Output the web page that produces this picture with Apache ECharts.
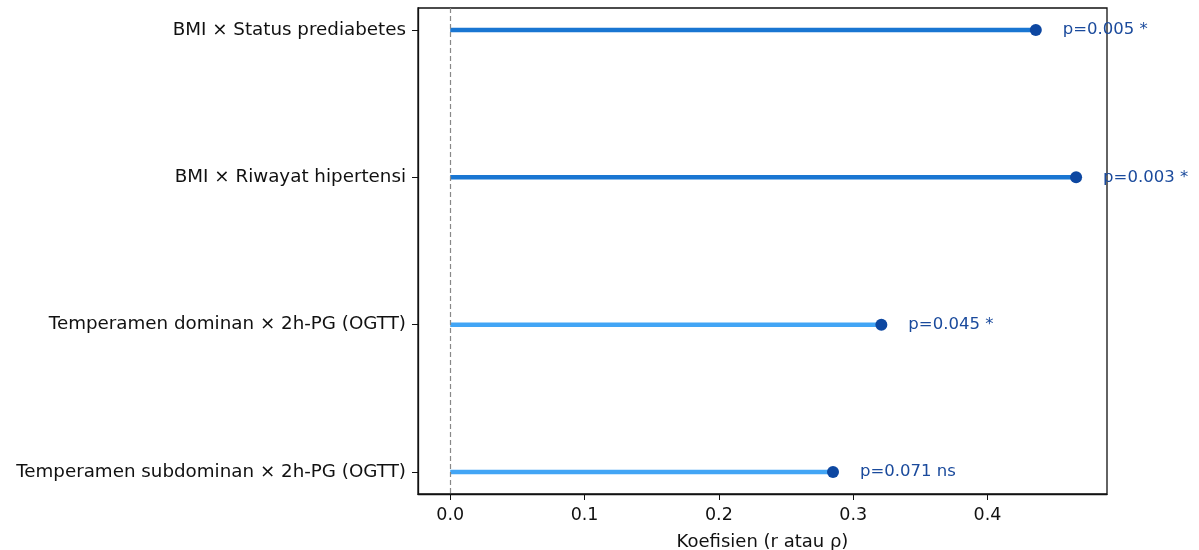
<!DOCTYPE html>
<html><head><meta charset="utf-8">
<script src="https://cdn.jsdelivr.net/npm/echarts@6/dist/echarts.min.js"></script>
<style>html,body{margin:0;padding:0;background:#fff}#c{width:1199px;height:550px}</style>
</head><body><div id="c"></div>
<script>
const categories = ["BMI × Status prediabetes","BMI × Riwayat hipertensi","Temperamen dominan × 2h-PG (OGTT)","Temperamen subdominan × 2h-PG (OGTT)"];
const values = [0.436, 0.466, 0.321, 0.285];
const pLabels = ["p=0.005 *","p=0.003 *","p=0.045 *","p=0.071 ns"];
const lineColors = ["#1976D2","#1976D2","#42A5F5","#42A5F5"];
const xTicks = [0, 0.1, 0.2, 0.3, 0.4];

const font = "DejaVu Sans";
const series = [];
categories.forEach((c, i) => {
  series.push({
    type: 'line', data: [[0, i], [values[i], i]], symbol: 'none', silent: true,
    lineStyle: {color: lineColors[i], width: 4.5}, z: 2
  });
});
series.push({
  type: 'scatter', z: 3, symbolSize: 12,
  itemStyle: {color: '#0D47A1', opacity: 1},
  data: values.map((v, i) => ({value: [v, i], label: {formatter: pLabels[i]}})),
  label: {show: true, position: 'right', distance: 21, color: '#1A4A9C', fontSize: 16.5, fontFamily: font},
  markLine: {
    silent: true, symbol: 'none', label: {show: false},
    lineStyle: {color: '#888', type: [5, 3], width: 1.2},
    data: [{xAxis: 0}]
  }
});

const chart = echarts.init(document.getElementById('c'), null, {renderer: 'canvas'});
chart.setOption({
  animation: false,
  grid: {left: 418, right: 92, top: 8, bottom: 56, containLabel: false, outerBoundsMode: 'none', show: true, borderColor: '#111', borderWidth: 1.3, backgroundColor: 'transparent'},
  xAxis: {
    type: 'value', min: -0.024, max: 0.489,
    name: 'Koefisien (r atau ρ)', nameLocation: 'middle', nameGap: 39,
    nameTextStyle: {fontSize: 18, color: '#111', fontFamily: font},
    splitLine: {show: false},
    axisLine: {show: true, onZero: false, lineStyle: {color: '#111', width: 1.3}},
    axisTick: {show: true, length: 6, customValues: xTicks, lineStyle: {color: '#111'}},
    axisLabel: {customValues: xTicks, formatter: v => v.toFixed(1), fontSize: 17.5, color: '#111', fontFamily: font, margin: 12}
  },
  yAxis: {
    type: 'value', inverse: true, min: -0.15, max: 3.15,
    splitLine: {show: false},
    axisLine: {show: true, onZero: false, lineStyle: {color: '#111', width: 1.3}},
    axisTick: {show: true, length: 6, customValues: [0,1,2,3], lineStyle: {color: '#111'}},
    axisLabel: {customValues: [0,1,2,3], formatter: v => categories[Math.round(v)], fontSize: 18.3, color: '#111', fontFamily: font, margin: 12}
  },
  series: series
});
</script></body></html>
